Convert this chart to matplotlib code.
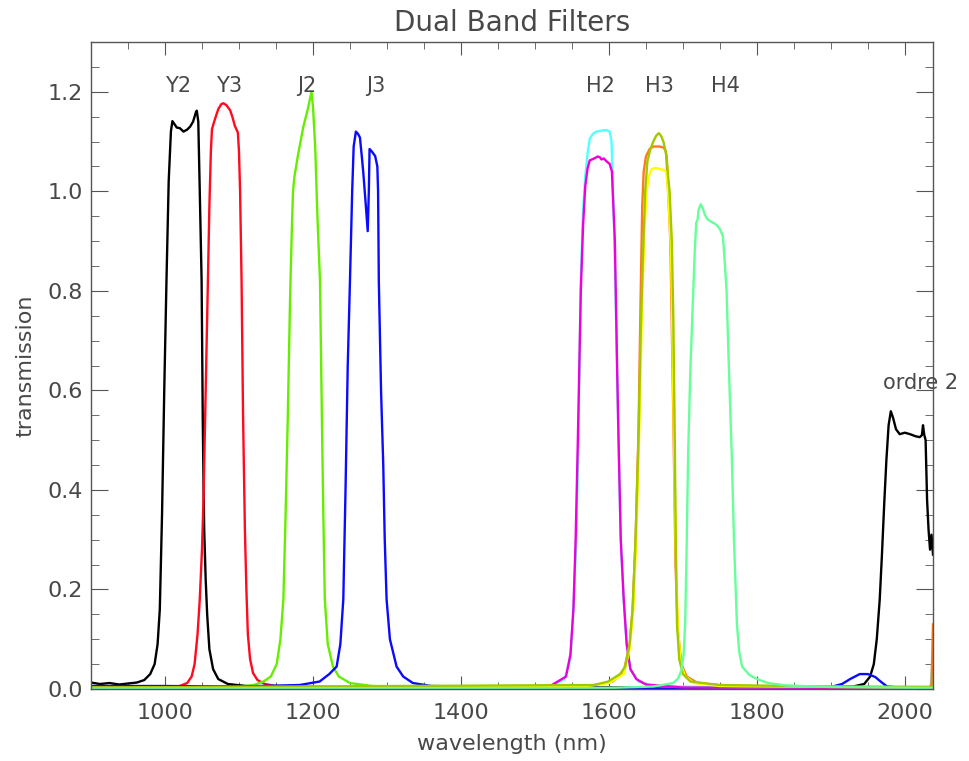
import numpy as np
import matplotlib.pyplot as plt
from matplotlib.ticker import MultipleLocator, FormatStrFormatter

# filter transmission curves (wavelength in nm)
y2_wl = [900, 912, 925, 938, 950, 962, 972, 980, 986, 990, 993, 996, 999, 1002, 1005, 1008,
         1010, 1016, 1020, 1025, 1030, 1034, 1038, 1042, 1043, 1045, 1047, 1049.5, 1051, 1052,
         1053, 1055, 1057, 1060, 1065, 1072, 1085, 1110, 1200, 1400, 1600, 1800, 1900, 1930,
         1945, 1953, 1958, 1962, 1966, 1969, 1972, 1975, 1978, 1981, 1984, 1988, 1993, 2000,
         2007, 2014, 2020, 2023, 2024.5, 2026, 2028, 2030, 2032, 2034, 2036, 2038]
y2_tr = [0.013, 0.010, 0.012, 0.009, 0.011, 0.013, 0.018, 0.03, 0.05, 0.09, 0.16, 0.35, 0.6,
         0.82, 1.02, 1.12, 1.141, 1.128, 1.127, 1.12, 1.124, 1.13, 1.14, 1.16, 1.162, 1.14,
         1.0, 0.82, 0.55, 0.42, 0.32, 0.22, 0.15, 0.08, 0.04, 0.02, 0.01, 0.006, 0.004, 0.003,
         0.003, 0.004, 0.004, 0.005, 0.01, 0.025, 0.05, 0.10, 0.18, 0.27, 0.37, 0.46, 0.53,
         0.558, 0.545, 0.522, 0.512, 0.515, 0.512, 0.508, 0.506, 0.51, 0.53, 0.512, 0.50,
         0.38, 0.32, 0.28, 0.31, 0.27]

y3_wl = [900, 1000, 1020, 1030, 1036, 1040, 1044, 1047, 1050, 1052, 1055, 1058, 1060, 1062,
         1063.5, 1067.5, 1072, 1076, 1079, 1083, 1088, 1091, 1094.5, 1098.5, 1100, 1101.5,
         1103.5, 1105.5, 1108, 1110, 1112, 1115, 1119, 1125, 1135, 1150, 1200, 2038]
y3_tr = [0.003, 0.004, 0.006, 0.012, 0.025, 0.05, 0.11, 0.18, 0.28, 0.38, 0.6, 0.82, 0.97,
         1.08, 1.125, 1.145, 1.165, 1.175, 1.177, 1.173, 1.163, 1.15, 1.131, 1.118, 1.08, 1.0,
         0.82, 0.55, 0.32, 0.2, 0.11, 0.06, 0.032, 0.018, 0.01, 0.006, 0.004, 0.003]

j2_wl = [900, 1050, 1100, 1120, 1133, 1143, 1151, 1156, 1160, 1163, 1166, 1169, 1171, 1173,
         1175, 1180, 1187, 1193, 1198, 1200, 1203, 1206, 1209.5, 1212, 1214, 1216, 1220, 1227,
         1235, 1250, 1280, 1400, 2036, 2038]
j2_tr = [0.002, 0.003, 0.005, 0.008, 0.015, 0.025, 0.05, 0.1, 0.18, 0.35, 0.55, 0.78, 0.9,
         1.0, 1.03, 1.075, 1.13, 1.165, 1.2, 1.17, 1.09, 0.95, 0.82, 0.55, 0.35, 0.18, 0.09,
         0.045, 0.025, 0.012, 0.006, 0.003, 0.003, 0.03]

j3_wl = [900, 1000, 1100, 1182, 1209, 1222, 1232, 1237, 1241, 1244, 1247, 1250, 1253, 1255,
         1258, 1261, 1263.5, 1266, 1268, 1271, 1274, 1275.5, 1276.5, 1279, 1282, 1284, 1287,
         1288, 1289, 1292, 1295, 1297, 1299.5, 1304, 1313, 1322, 1335, 1360, 1500, 1700, 1900,
         1915, 1926, 1939, 1950, 1960, 1968, 1976, 2000, 2038]
j3_tr = [0.006, 0.006, 0.005, 0.008, 0.015, 0.03, 0.045, 0.09, 0.18, 0.4, 0.65, 0.82, 1.0,
         1.09, 1.12, 1.115, 1.108, 1.07, 1.038, 0.98, 0.92, 1.0, 1.085, 1.081, 1.075, 1.071,
         1.05, 1.0, 0.82, 0.6, 0.45, 0.3, 0.18, 0.1, 0.045, 0.025, 0.012, 0.006, 0.003, 0.002,
         0.004, 0.01, 0.02, 0.03, 0.03, 0.024, 0.014, 0.005, 0.002, 0.002]

h2c_wl = [900, 1400, 1500, 1525, 1540, 1548, 1552, 1556, 1559, 1562, 1565, 1568, 1571, 1574,
          1578, 1583, 1590, 1597, 1601, 1603.5, 1605, 1607, 1609, 1611, 1613, 1616, 1620, 1624,
          1629, 1640, 1660, 1800, 2035, 2037, 2038]
h2c_tr = [0.002, 0.002, 0.004, 0.008, 0.02, 0.06, 0.16, 0.3, 0.52, 0.82, 0.96, 1.03, 1.075,
          1.105, 1.115, 1.12, 1.122, 1.123, 1.12, 1.10, 1.03, 0.93, 0.8, 0.65, 0.5, 0.3, 0.18,
          0.09, 0.04, 0.015, 0.006, 0.002, 0.003, 0.05, 0.06]

h2m_wl = [900, 1500, 1523, 1542, 1548, 1552, 1555, 1558, 1562, 1565, 1568, 1571, 1574, 1580,
          1585, 1588, 1590, 1593, 1597, 1601, 1604, 1606, 1608, 1611, 1613, 1616, 1620, 1624,
          1629, 1637, 1650, 1700, 2038]
h2m_tr = [0.002, 0.003, 0.008, 0.025, 0.07, 0.16, 0.3, 0.5, 0.8, 0.93, 1.01, 1.045, 1.062,
          1.066, 1.07, 1.068, 1.064, 1.066, 1.06, 1.055, 1.04, 0.97, 0.9, 0.65, 0.5, 0.3, 0.18,
          0.09, 0.04, 0.02, 0.009, 0.003, 0.002]

h3o_wl = [900, 1550, 1580, 1605, 1620, 1628, 1632, 1636, 1640, 1643, 1645, 1647, 1650, 1655,
          1660, 1668, 1674, 1677, 1678, 1680, 1683, 1687, 1690, 1693, 1698, 1705, 1720, 1760,
          1900, 2034, 2036, 2038]
h3o_tr = [0.003, 0.004, 0.008, 0.015, 0.035, 0.09, 0.16, 0.3, 0.52, 0.8, 0.97, 1.04, 1.07,
          1.085, 1.09, 1.09, 1.088, 1.08, 1.06, 1.0, 0.9, 0.55, 0.25, 0.12, 0.05, 0.025, 0.012,
          0.006, 0.004, 0.004, 0.01, 0.13]

h3y_wl = [900, 1570, 1600, 1620, 1628, 1633, 1637, 1641, 1645, 1648, 1651, 1654, 1658, 1663,
          1668, 1674, 1677, 1679, 1681, 1684, 1687, 1690, 1693, 1697, 1703, 1715, 1750, 2038]
h3y_tr = [0.002, 0.006, 0.012, 0.03, 0.08, 0.16, 0.3, 0.52, 0.78, 0.92, 1.0, 1.03, 1.045,
          1.047, 1.045, 1.043, 1.04, 1.02, 0.97, 0.88, 0.6, 0.3, 0.13, 0.05, 0.025, 0.012,
          0.006, 0.003]

h3g_wl = [900, 1580, 1599, 1615, 1622, 1628, 1632, 1636, 1640, 1643, 1646, 1649, 1652, 1656,
          1660, 1664, 1667.5, 1671, 1674, 1678, 1680, 1682, 1685, 1687, 1689, 1690.5, 1692,
          1695, 1700, 1710, 1750, 1900, 2038]
h3g_tr = [0.003, 0.008, 0.015, 0.03, 0.045, 0.09, 0.16, 0.3, 0.5, 0.72, 0.87, 1.0, 1.06,
          1.085, 1.10, 1.112, 1.117, 1.11, 1.098, 1.07, 1.03, 1.0, 0.9, 0.75, 0.5, 0.28, 0.13,
          0.06, 0.03, 0.015, 0.008, 0.005, 0.004]

h4_wl = [900, 1600, 1660, 1687, 1694, 1698, 1701, 1703, 1705, 1707, 1710, 1714, 1716, 1718,
         1720, 1721, 1724, 1727, 1730, 1733, 1737, 1743, 1747, 1750, 1754, 1756, 1759, 1762,
         1766, 1769, 1773, 1776, 1780, 1790, 1800, 1815, 1840, 1900, 2038]
h4_tr = [0.001, 0.002, 0.005, 0.012, 0.022, 0.038, 0.07, 0.13, 0.28, 0.47, 0.64, 0.80, 0.88,
         0.937, 0.944, 0.962, 0.974, 0.965, 0.952, 0.944, 0.94, 0.935, 0.93, 0.924, 0.91, 0.87,
         0.80, 0.65, 0.47, 0.3, 0.13, 0.075, 0.045, 0.028, 0.02, 0.012, 0.007, 0.004, 0.002]

band_names = ['Y2', 'Y3', 'J2', 'J3', 'H2', 'H3', 'H4']
band_pos = [1017.6, 1086.5, 1192, 1285, 1588, 1668, 1758]

curves = [(y2_wl, y2_tr, 'black'),
          (y3_wl, y3_tr, '#ff0a1e'),
          (j2_wl, j2_tr, '#66ee00'),
          (j3_wl, j3_tr, '#0a0aff'),
          (h2c_wl, h2c_tr, '#55ffff'),
          (h2m_wl, h2m_tr, '#ee00dd'),
          (h3o_wl, h3o_tr, '#ff7a1a'),
          (h3y_wl, h3y_tr, '#ffff00'),
          (h3g_wl, h3g_tr, '#a2c800'),
          (h4_wl, h4_tr, '#66ff99')]

txt_col = '#484848'

fig = plt.figure(figsize=(9.7, 7.61), dpi=100)
ax = fig.add_axes([91 / 970, 1 - 689 / 761, 842 / 970, 647 / 761])

for wl, tr, col in curves:
    ax.plot(wl, tr, color=col, lw=1.7)

ax.set_xlim(900, 2038)
ax.set_ylim(0, 1.3)
ax.xaxis.set_major_locator(MultipleLocator(200))
ax.xaxis.set_minor_locator(MultipleLocator(50))
ax.yaxis.set_major_locator(MultipleLocator(0.2))
ax.yaxis.set_minor_locator(MultipleLocator(0.05))
ax.yaxis.set_major_formatter(FormatStrFormatter('%.1f'))

ax.tick_params(which='both', direction='in', top=True, right=True,
               color='#555555', labelcolor=txt_col, labelsize=16)
ax.tick_params(axis='x', which='major', length=9.5, pad=10)
ax.tick_params(axis='x', which='minor', length=4.7)
ax.tick_params(axis='y', which='major', length=12, pad=6)
ax.tick_params(axis='y', which='minor', length=6)
for s in ax.spines.values():
    s.set_color('#555555')
    s.set_linewidth(1)

for name, x in zip(band_names, band_pos):
    ax.text(x, 1.211, name, ha='center', va='center', fontsize=15, color=txt_col)
ax.text(1970, 0.614, 'ordre 2', ha='left', va='center', fontsize=15,
        color=txt_col, clip_on=False)

ax.set_title('Dual Band Filters', fontsize=20, color=txt_col, pad=8)
ax.set_xlabel('wavelength (nm)', fontsize=16, color=txt_col)
ax.set_ylabel('transmission', fontsize=16, color=txt_col)
ax.xaxis.set_label_coords(0.5, -0.07)
ax.yaxis.set_label_coords(-0.066, 0.5)

fig.savefig('out.png', dpi=100)
